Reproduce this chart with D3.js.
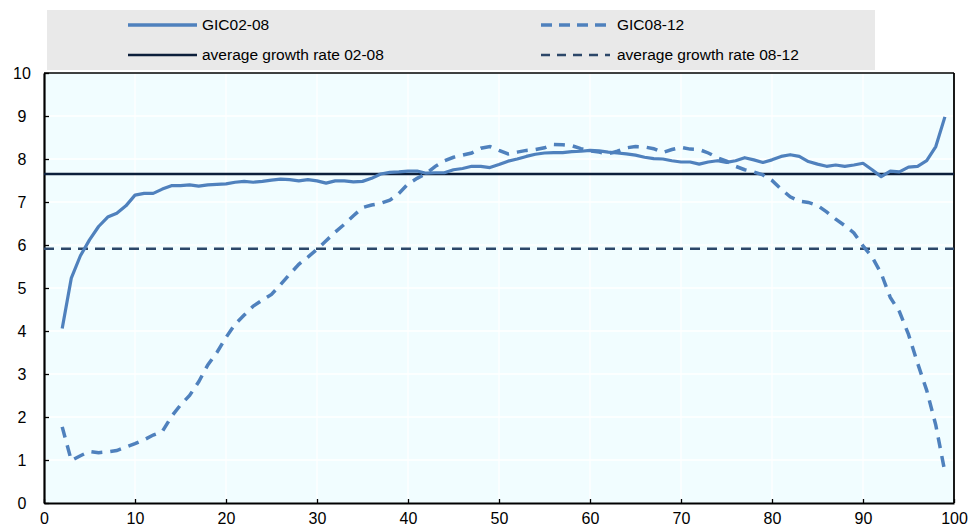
<!DOCTYPE html>
<html>
<head>
<meta charset="utf-8">
<script src="https://cdn.jsdelivr.net/npm/d3@7"></script>
<style>
  html, body { margin: 0; padding: 0; background: #ffffff; }
  svg { display: block; font-family: "Liberation Sans", Arial, sans-serif; }
</style>
</head>
<body>
<svg id="chart" width="968" height="529"></svg>
<script>
// Percentiles of the income distribution
const percentiles = [2,3,4,5,6,7,8,9,10,11,12,13,14,15,16,17,18,19,20,21,22,23,24,25,26,27,28,29,30,
  31,32,33,34,35,36,37,38,39,40,41,42,43,44,45,46,47,48,49,50,51,52,53,54,55,56,57,58,59,60,
  61,62,63,64,65,66,67,68,69,70,71,72,73,74,75,76,77,78,79,80,81,82,83,84,85,86,87,88,89,90,
  91,92,93,94,95,96,97,98,99];

// Growth incidence curve 2002-08
const gic0208 = [4.06,5.23,5.75,6.12,6.43,6.65,6.74,6.91,7.16,7.20,7.20,7.30,7.38,7.38,7.40,7.37,7.40,7.41,7.42,
  7.46,7.48,7.46,7.48,7.51,7.53,7.52,7.49,7.52,7.49,7.44,7.49,7.49,7.47,7.48,7.55,7.65,7.69,7.70,7.72,
  7.72,7.67,7.68,7.68,7.75,7.78,7.83,7.83,7.80,7.87,7.95,8.00,8.06,8.11,8.14,8.15,8.15,8.17,8.18,8.20,
  8.19,8.16,8.14,8.12,8.09,8.04,8.01,8.00,7.96,7.93,7.93,7.88,7.93,7.96,7.92,7.96,8.03,7.98,7.92,7.98,
  8.06,8.10,8.06,7.94,7.88,7.83,7.86,7.83,7.86,7.90,7.75,7.59,7.72,7.70,7.81,7.83,7.96,8.29,8.98];

// Growth incidence curve 2008-12
const gic0812 = [1.77,0.99,1.10,1.20,1.17,1.19,1.22,1.30,1.38,1.47,1.58,1.66,2.01,2.28,2.50,2.82,3.21,3.50,3.85,
  4.16,4.37,4.58,4.72,4.85,5.08,5.32,5.55,5.72,5.90,6.10,6.30,6.48,6.68,6.87,6.93,6.97,7.04,7.20,7.42,
  7.55,7.66,7.83,7.96,8.04,8.09,8.14,8.25,8.29,8.20,8.12,8.16,8.20,8.22,8.26,8.34,8.33,8.31,8.24,8.19,
  8.16,8.12,8.18,8.26,8.29,8.28,8.24,8.15,8.22,8.27,8.23,8.22,8.14,8.03,7.95,7.83,7.75,7.70,7.63,7.50,
  7.30,7.12,7.02,6.99,6.92,6.77,6.60,6.45,6.28,5.98,5.72,5.34,4.78,4.45,3.92,3.25,2.62,1.81,0.72];

// Average growth rates
const avg0208 = 7.65;
const avg0812 = 5.91;

const xTicks = [0,10,20,30,40,50,60,70,80,90,100];
const yTicks = [0,1,2,3,4,5,6,7,8,9,10];

const legendLabels = ["GIC02-08", "GIC08-12", "average growth rate 02-08", "average growth rate 08-12"];

const BLUE = "#4f81bd";
const NAVY = "#0c1f3b";
const SLATE = "#2c4769";

const svg = d3.select("#chart");

const x = d3.scaleLinear().domain([0, 100]).range([44, 954]);
const y = d3.scaleLinear().domain([0, 10]).range([503, 73]);

// plot background
svg.append("rect")
  .attr("x", x(0)).attr("y", y(10))
  .attr("width", x(100) - x(0)).attr("height", y(0) - y(10))
  .attr("fill", "#f1fdff");

// gridlines
svg.append("g").selectAll("line.v").data(xTicks.slice(1, -1)).join("line")
  .attr("x1", d => x(d)).attr("x2", d => x(d))
  .attr("y1", y(0)).attr("y2", y(10))
  .attr("stroke", "#ffffff").attr("stroke-width", 1.3);
svg.append("g").selectAll("line.h").data(yTicks.slice(1, -1)).join("line")
  .attr("x1", x(0)).attr("x2", x(100))
  .attr("y1", d => y(d)).attr("y2", d => y(d))
  .attr("stroke", "#ffffff").attr("stroke-width", 1.3);

// frame
svg.append("line").attr("x1", x(0)).attr("x2", x(100)).attr("y1", y(10)).attr("y2", y(10))
  .attr("stroke", "#000").attr("stroke-width", 1.5);
svg.append("line").attr("x1", x(100)).attr("x2", x(100)).attr("y1", y(10)).attr("y2", y(0))
  .attr("stroke", "#000").attr("stroke-width", 1.8);

// axes
const xAxis = d3.axisBottom(x).tickValues(xTicks).tickSizeInner(-4).tickSizeOuter(0).tickPadding(10);
const yAxis = d3.axisLeft(y).tickValues(yTicks).tickSizeInner(-5).tickSizeOuter(0).tickPadding(12);

const gx = svg.append("g").attr("transform", `translate(0,${y(0)})`).call(xAxis);
const gy = svg.append("g").attr("transform", `translate(${x(0)},0)`).call(yAxis);

[gx, gy].forEach(g => {
  g.select(".domain").attr("stroke", "#000").attr("stroke-width", 2.2);
  g.selectAll(".tick line").attr("stroke", "#000").attr("stroke-width", 1.3);
  g.selectAll(".tick text").attr("fill", "#000")
    .attr("font-family", "'Liberation Sans Narrow', 'Arial Narrow', 'Liberation Sans', Arial, sans-serif")
    .attr("font-size", 17.5);
});
gy.selectAll(".tick text").attr("text-anchor", "middle").attr("x", 22 - x(0));

// fall back to the regular face at a smaller size when no narrow face is present
const probe = gx.selectAll(".tick text").filter(d => d === 100).node();
if (probe && probe.getComputedTextLength() > 26) {
  [gx, gy].forEach(g => g.selectAll(".tick text")
    .attr("font-family", "'Liberation Sans', Arial, sans-serif").attr("font-size", 16));
}

// average lines
svg.append("line")
  .attr("x1", x(0)).attr("x2", x(100)).attr("y1", y(avg0208)).attr("y2", y(avg0208))
  .attr("stroke", NAVY).attr("stroke-width", 2.5);
svg.append("line")
  .attr("x1", x(0)).attr("x2", x(100)).attr("y1", y(avg0812)).attr("y2", y(avg0812))
  .attr("stroke", SLATE).attr("stroke-width", 2.5).attr("stroke-dasharray", "10,7");

// growth incidence curves
const line = d3.line().x(d => x(d[0])).y(d => y(d[1]));

svg.append("path")
  .datum(percentiles.map((p, i) => [p, gic0812[i]]))
  .attr("d", line)
  .attr("fill", "none").attr("stroke", BLUE).attr("stroke-width", 3.5)
  .attr("stroke-dasharray", "11,8");

svg.append("path")
  .datum(percentiles.map((p, i) => [p, gic0208[i]]))
  .attr("d", line)
  .attr("fill", "none").attr("stroke", BLUE).attr("stroke-width", 3.2)
  .attr("stroke-linejoin", "round");

// legend
const legend = svg.append("g");
legend.append("rect").attr("x", 47).attr("y", 10).attr("width", 828).attr("height", 60)
  .attr("fill", "#e9e9e9");

const legendItems = [
  { label: legendLabels[0], col: 0, row: 0, color: BLUE, width: 3.5, dash: null },
  { label: legendLabels[1], col: 1, row: 0, color: BLUE, width: 3.5, dash: "11,7" },
  { label: legendLabels[2], col: 0, row: 1, color: NAVY, width: 2.5, dash: null },
  { label: legendLabels[3], col: 1, row: 1, color: SLATE, width: 2.5, dash: "9,7" }
];
const colX = [128, 541];
const rowY = [25, 55];

const li = legend.selectAll("g.item").data(legendItems).join("g")
  .attr("transform", d => `translate(${colX[d.col]},${rowY[d.row]})`);
li.append("line").attr("x1", 0).attr("x2", 69).attr("y1", 0).attr("y2", 0)
  .attr("stroke", d => d.color).attr("stroke-width", d => d.width)
  .attr("stroke-dasharray", d => d.dash);
li.append("text").attr("x", d => d.col === 0 ? 74 : 76).attr("y", 0).attr("dy", "0.35em")
  .attr("font-size", 15.5).attr("fill", "#000").text(d => d.label);
</script>
</body>
</html>
